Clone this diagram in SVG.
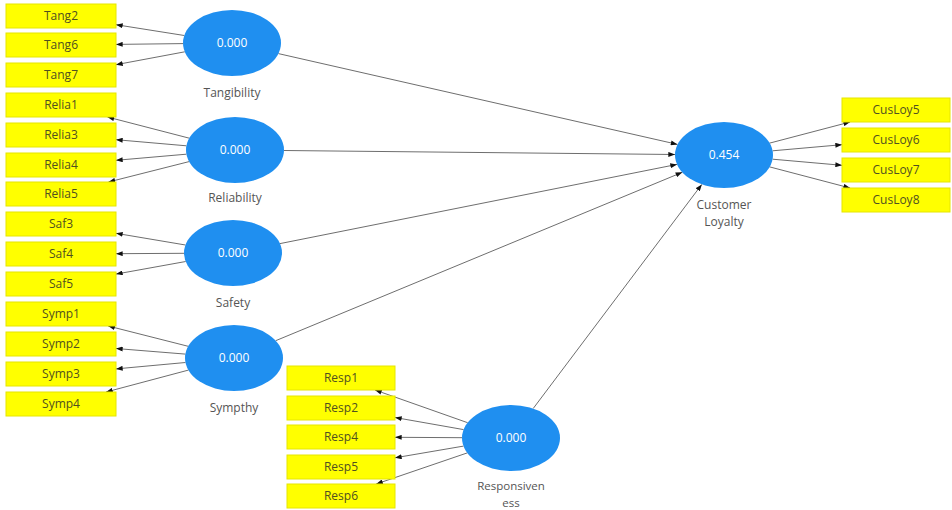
<svg xmlns="http://www.w3.org/2000/svg" width="952" height="510" viewBox="0 0 952 510">
  <style>
    .ind rect { fill: #ffff00; stroke: #e6e600; stroke-width: 1; }
    .ind text { font-family: "Open Sans", "Noto Sans", sans-serif; font-size: 12px; fill: #505020; text-anchor: middle; }
    .lv ellipse { fill: #1f8ff0; }
    .lv .val { font-family: "Open Sans", "Noto Sans", sans-serif; font-size: 12px; fill: #ffffff; text-anchor: middle; }
    .lv .name { font-family: "Open Sans", "Noto Sans", sans-serif; font-size: 12px; fill: #555555; text-anchor: middle; }
    .lv .small { font-size: 11.5px; }
    #connectors line { stroke: #6e6e6e; stroke-width: 1; marker-end: url(#arrow); }
  </style>
  <defs>
    <marker id="arrow" viewBox="0 0 8 6" refX="8" refY="3" markerWidth="7" markerHeight="5" markerUnits="userSpaceOnUse" orient="auto">
      <path d="M0,0 L8,3 L0,6 z" fill="#111111"/>
    </marker>
  </defs>
  <rect width="952" height="510" fill="#ffffff"/>

  <!-- connectors: loadings and structural paths -->
  <g id="connectors">
    <!-- Tangibility -> indicators -->
    <line x1="184.3" y1="35.5" x2="116" y2="24.7"/>
    <line x1="183" y1="43.6" x2="116" y2="44.4"/>
    <line x1="184.8" y1="51.8" x2="116" y2="64.7"/>
    <!-- Reliability -> indicators -->
    <line x1="189.3" y1="138.2" x2="107.5" y2="117"/>
    <line x1="186.4" y1="145.8" x2="116" y2="139.7"/>
    <line x1="186.4" y1="154.2" x2="116" y2="160.3"/>
    <line x1="189.1" y1="161.6" x2="108.5" y2="182"/>
    <!-- Safety -> indicators -->
    <line x1="185.5" y1="245" x2="116" y2="233.3"/>
    <line x1="184" y1="253.3" x2="116" y2="253.7"/>
    <line x1="185.7" y1="261.5" x2="116" y2="274.1"/>
    <!-- Sympthy -> indicators -->
    <line x1="188.2" y1="346.3" x2="108.2" y2="326"/>
    <line x1="185.4" y1="354.1" x2="116" y2="348.5"/>
    <line x1="185.5" y1="362.5" x2="116" y2="368.9"/>
    <line x1="188.4" y1="370.1" x2="106.1" y2="392"/>
    <!-- Responsiveness -> indicators -->
    <line x1="467.6" y1="422.7" x2="375" y2="390"/>
    <line x1="463.6" y1="429.6" x2="395" y2="417.5"/>
    <line x1="462" y1="437.7" x2="395" y2="437.3"/>
    <line x1="463.5" y1="446.1" x2="395" y2="457.8"/>
    <line x1="467.3" y1="452.9" x2="376.2" y2="484"/>
    <!-- Customer Loyalty -> indicators -->
    <line x1="769.7" y1="143.1" x2="850.1" y2="122"/>
    <line x1="772.6" y1="150.8" x2="842" y2="144.7"/>
    <line x1="772.6" y1="159.2" x2="842" y2="165.3"/>
    <line x1="769.7" y1="166.9" x2="850.1" y2="188"/>
    <!-- structural paths -->
    <line x1="278.4" y1="53.6" x2="677.5" y2="144.4"/>
    <line x1="284" y1="150.5" x2="675" y2="154.5"/>
    <line x1="280" y1="243.6" x2="677" y2="164.4"/>
    <line x1="275.7" y1="340.7" x2="682.3" y2="172.3"/>
    <line x1="533.2" y1="408.5" x2="701.8" y2="184.4"/>
  </g>

  <!-- indicators -->
  <g id="Tang2" class="ind"><rect x="6" y="4" width="110" height="24"/><text x="61" y="20">Tang2</text></g>
  <g id="Tang6" class="ind"><rect x="6" y="33" width="110" height="24"/><text x="61" y="49">Tang6</text></g>
  <g id="Tang7" class="ind"><rect x="6" y="63" width="110" height="24"/><text x="61" y="79">Tang7</text></g>
  <g id="Relia1" class="ind"><rect x="6" y="93" width="110" height="24"/><text x="61" y="109">Relia1</text></g>
  <g id="Relia3" class="ind"><rect x="6" y="123" width="110" height="24"/><text x="61" y="139">Relia3</text></g>
  <g id="Relia4" class="ind"><rect x="6" y="153" width="110" height="24"/><text x="61" y="169">Relia4</text></g>
  <g id="Relia5" class="ind"><rect x="6" y="182" width="110" height="24"/><text x="61" y="198">Relia5</text></g>
  <g id="Saf3" class="ind"><rect x="6" y="212" width="110" height="24"/><text x="61" y="228">Saf3</text></g>
  <g id="Saf4" class="ind"><rect x="6" y="242" width="110" height="24"/><text x="61" y="258">Saf4</text></g>
  <g id="Saf5" class="ind"><rect x="6" y="272" width="110" height="24"/><text x="61" y="288">Saf5</text></g>
  <g id="Symp1" class="ind"><rect x="6" y="302" width="110" height="24"/><text x="61" y="318">Symp1</text></g>
  <g id="Symp2" class="ind"><rect x="6" y="332" width="110" height="24"/><text x="61" y="348">Symp2</text></g>
  <g id="Symp3" class="ind"><rect x="6" y="362" width="110" height="24"/><text x="61" y="378">Symp3</text></g>
  <g id="Symp4" class="ind"><rect x="6" y="392" width="110" height="24"/><text x="61" y="408">Symp4</text></g>
  <g id="Resp1" class="ind"><rect x="287" y="366" width="108" height="24"/><text x="341" y="382">Resp1</text></g>
  <g id="Resp2" class="ind"><rect x="287" y="396" width="108" height="24"/><text x="341" y="412">Resp2</text></g>
  <g id="Resp4" class="ind"><rect x="287" y="425" width="108" height="24"/><text x="341" y="441">Resp4</text></g>
  <g id="Resp5" class="ind"><rect x="287" y="455" width="108" height="24"/><text x="341" y="471">Resp5</text></g>
  <g id="Resp6" class="ind"><rect x="287" y="484" width="108" height="24"/><text x="341" y="500">Resp6</text></g>
  <g id="CusLoy5" class="ind"><rect x="842" y="98" width="108" height="24"/><text x="896" y="114">CusLoy5</text></g>
  <g id="CusLoy6" class="ind"><rect x="842" y="128" width="108" height="24"/><text x="896" y="144">CusLoy6</text></g>
  <g id="CusLoy7" class="ind"><rect x="842" y="158" width="108" height="24"/><text x="896" y="174">CusLoy7</text></g>
  <g id="CusLoy8" class="ind"><rect x="842" y="188" width="108" height="24"/><text x="896" y="204">CusLoy8</text></g>

  <!-- latent variables -->
  <g id="Tangibility" class="lv">
    <ellipse cx="232" cy="43" rx="49" ry="33"/>
    <text class="val" x="232" y="47">0.000</text>
    <text class="name" x="232" y="97">Tangibility</text>
  </g>
  <g id="Reliability" class="lv">
    <ellipse cx="235" cy="150" rx="49" ry="33"/>
    <text class="val" x="235" y="154">0.000</text>
    <text class="name" x="235" y="202">Reliability</text>
  </g>
  <g id="Safety" class="lv">
    <ellipse cx="233" cy="253" rx="49" ry="33"/>
    <text class="val" x="233" y="257">0.000</text>
    <text class="name" x="233" y="307">Safety</text>
  </g>
  <g id="Sympthy" class="lv">
    <ellipse cx="234" cy="358" rx="49" ry="33"/>
    <text class="val" x="234" y="362">0.000</text>
    <text class="name" x="234" y="412">Sympthy</text>
  </g>
  <g id="Responsiveness" class="lv">
    <ellipse cx="511" cy="438" rx="49" ry="33"/>
    <text class="val" x="511" y="442">0.000</text>
    <text class="name small" x="511" y="490">Responsiven</text>
    <text class="name small" x="511" y="507">ess</text>
  </g>
  <g id="CustomerLoyalty" class="lv">
    <ellipse cx="724" cy="155" rx="49" ry="33"/>
    <text class="val" x="724" y="159">0.454</text>
    <text class="name" x="724" y="209">Customer</text>
    <text class="name" x="724" y="226">Loyalty</text>
  </g>
</svg>
